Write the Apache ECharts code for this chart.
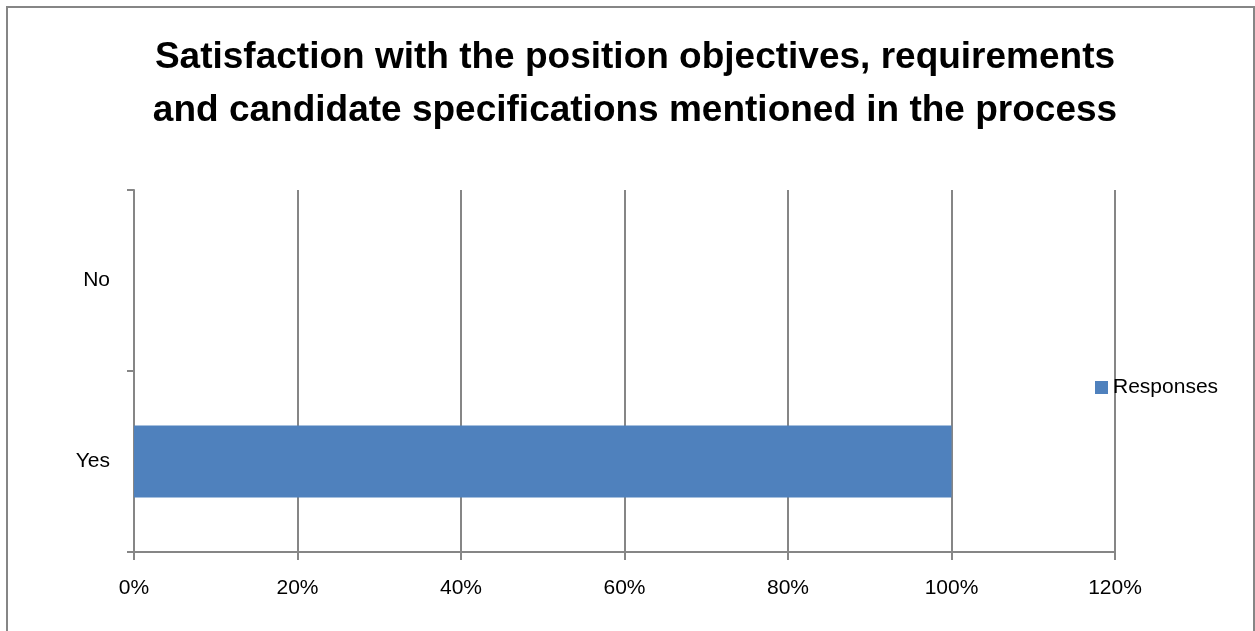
<!DOCTYPE html>
<html style="height: 100%">
   <head>
       <meta charset="utf-8">
   </head>
   <body style="height: 100%; margin: 0; background: #fff">
       <div id="container" style="width: 1255px; height: 631px"></div>
       <script type="text/javascript" src="https://cdn.jsdelivr.net/npm/echarts@6/dist/echarts.min.js"></script>
       <script type="text/javascript">
var categories = ['Yes', 'No'];
var responses = [100, 0];
var seriesName = 'Responses';
var titleText = 'Satisfaction with the position objectives, requirements\nand candidate specifications mentioned in the process';

var dom = document.getElementById("container");
var myChart = echarts.init(dom);
var axisGray = '#868686';
var font = '"Liberation Sans", Arial, sans-serif';

var option = {
    animation: false,
    textStyle: { fontFamily: font },
    title: {
        text: titleText,
        left: 630,
        top: 26,
        textAlign: 'center',
        textStyle: {
            fontFamily: font,
            fontSize: 37,
            fontWeight: 'bold',
            lineHeight: 53,
            color: '#000'
        }
    },
    legend: {
        data: [seriesName],
        orient: 'vertical',
        left: 1090,
        top: 372,
        icon: 'rect',
        itemWidth: 13,
        itemHeight: 13,
        itemGap: 8,
        textStyle: { fontSize: 21, color: '#000', fontFamily: font }
    },
    grid: {
        left: 134,
        right: 140,
        top: 190,
        bottom: 79,
        containLabel: false
    },
    xAxis: {
        type: 'value',
        min: 0,
        max: 120,
        interval: 20,
        axisLine: { show: true, lineStyle: { color: axisGray, width: 2 } },
        axisTick: { show: true, length: 8, lineStyle: { color: axisGray, width: 2 } },
        splitLine: { show: true, lineStyle: { color: axisGray, width: 2 } },
        axisLabel: {
            formatter: '{value}%',
            fontSize: 21,
            color: '#000',
            margin: 26
        }
    },
    yAxis: {
        type: 'category',
        data: categories,
        axisLine: { show: true, lineStyle: { color: axisGray, width: 2 } },
        axisTick: { show: true, length: 7, lineStyle: { color: axisGray, width: 2 } },
        axisLabel: { fontSize: 21, color: '#000', margin: 24 }
    },
    series: [{
        name: seriesName,
        type: 'bar',
        data: responses,
        barWidth: 72,
        itemStyle: { color: '#4f81bd' }
    }],
    graphic: [{
        type: 'rect',
        shape: { x: 7, y: 7, width: 1247, height: 640 },
        style: { fill: 'none', stroke: axisGray, lineWidth: 2 },
        silent: true
    }]
};

myChart.setOption(option);
       </script>
   </body>
</html>
